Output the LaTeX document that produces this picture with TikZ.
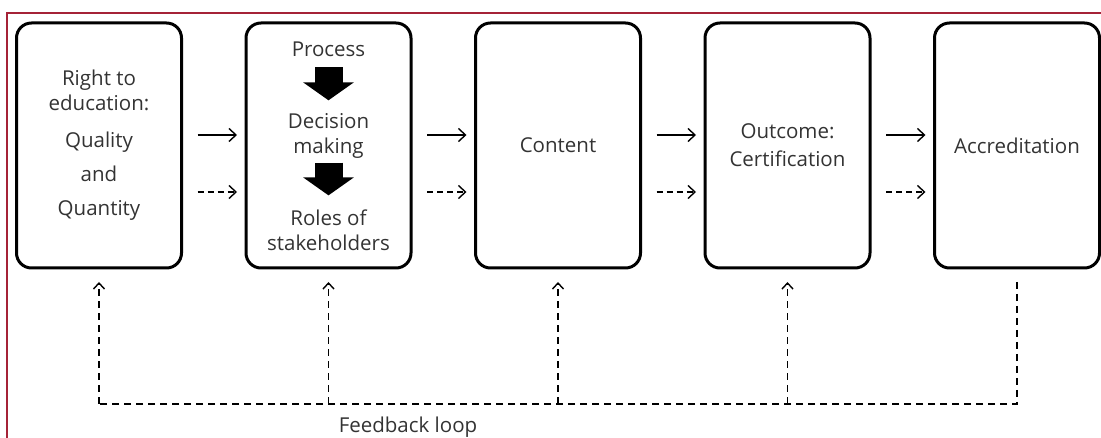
\documentclass[tikz,border=0pt]{standalone}
\usepackage{fontspec}
\setmainfont{Open Sans}
\usepackage{xcolor}
\usepackage{tikz}
\usetikzlibrary{arrows.meta,positioning,calc}
\definecolor{framered}{RGB}{165,35,55}
\tikzset{
  stage/.style={draw=black, line width=3pt, rounded corners=15pt, minimum width=165pt, minimum height=245pt, inner sep=0pt, outer sep=0pt, align=center, text=black!80, font=\fontsize{20.5}{25}\selectfont},
  txt/.style={inner sep=0pt, align=center, text=black!80, font=\fontsize{20.5}{25}\selectfont},
  flow/.style={line width=1.4pt, -{Straight Barb[length=7pt,width=13pt]}, shorten <=16pt, shorten >=9pt},
  flowdash/.style={flow, dash pattern=on 6pt off 4pt},
  fb/.style={line width=1.4pt, dash pattern=on 7pt off 5pt},
  bigarrow/.style={line width=28pt, -{Triangle[length=18pt,width=50pt]}},
  frame/.style={draw=framered, line width=2pt}
}

\begin{document}
\begin{tikzpicture}[x=1pt,y=-1pt]
  \useasboundingbox (0,0) rectangle (1101,438);
  \draw[frame] (1101,13) -- (7,13) -- (7,438);

  % the five stages
  \node[stage] (rte) at (99,145.5) {Right to\\education:\\[12pt]Quality\\[9pt]and\\[9pt]Quantity};
  \node[stage, right=64.5pt of rte] (proc) {};
  \node[stage, right=64.5pt of proc] (cont) {Content};
  \node[stage, right=64.5pt of cont] (outc) {Outcome:\\[3pt]Certification};
  \node[stage, right=64.5pt of outc] (accr) {Accreditation};

  % inside the process box
  \node[txt, anchor=base] (process) at (proc |- 0,57) {Process};
  \node[txt] (decision) at (proc |- 0,136) {Decision\\making};
  \node[txt] (roles) at (proc |- 0,230) {Roles of\\stakeholders};
  \draw[bigarrow] ([yshift=-10pt]process.south) -- ([yshift=13pt]decision.north);
  \draw[bigarrow] ([yshift=-4pt]decision.south) -- ([yshift=14pt]roles.north);

  % arrows between stages
  \foreach \a/\b in {rte/proc, proc/cont, cont/outc, outc/accr} {
    \draw[flow] ([yshift=10.5pt]\a.east) -- ([yshift=10.5pt]\b.west);
    \draw[flowdash] ([yshift=-46.5pt]\a.east) -- ([yshift=-46.5pt]\b.west);
  }

  % feedback loop
  \coordinate (fbline) at (0,404);
  \foreach \n in {rte,proc,cont,outc}
    \draw[fb, -{Straight Barb[length=6pt,width=11pt]}] (\n |- fbline) -- ([yshift=-14pt]\n.south);
  \draw[fb] ([yshift=-14pt]accr.south) -- (accr |- fbline) -- (rte |- fbline);
  \node[txt] (fblabel) at (408,427) {Feedback loop};
\end{tikzpicture}
\end{document}
